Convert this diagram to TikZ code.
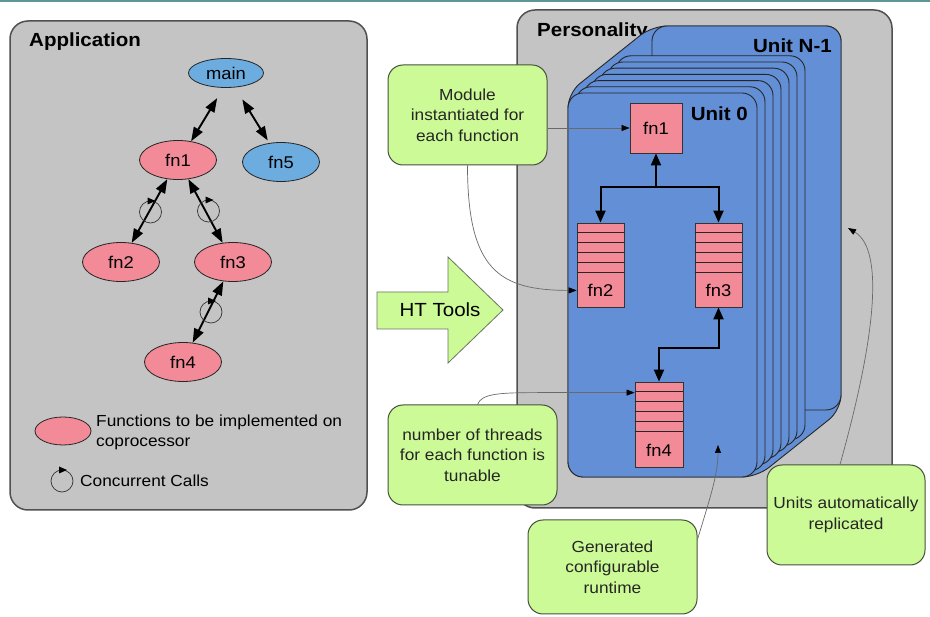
\documentclass[tikz,border=0pt]{standalone}
\usepackage{fontspec}
\setmainfont{Liberation Sans}[FakeStretch=1.08]
\usetikzlibrary{arrows.meta,calc,shapes.geometric}

\definecolor{panelgray}{RGB}{196,196,196}
\definecolor{paneledge}{RGB}{80,80,80}
\definecolor{unitblue}{RGB}{98,143,214}
\definecolor{fnpink}{RGB}{242,138,152}
\definecolor{fnblue}{RGB}{108,172,222}
\definecolor{notegreen}{RGB}{204,250,150}
\definecolor{noteedge}{RGB}{70,80,60}
\definecolor{topline}{RGB}{92,150,150}
\definecolor{leadergray}{RGB}{105,105,105}

\tikzset{
  panel/.style={fill=panelgray, draw=paneledge, line width=1.5pt, rounded corners=18pt},
  title/.style={font=\fontsize{19}{19}\selectfont\bfseries, inner sep=0pt},
  fnell/.style={ellipse, draw=black!85, line width=0.8pt, fill=fnpink,
    minimum width=77pt, minimum height=39pt, inner sep=0pt,
    font=\fontsize{17}{17}\selectfont},
  calltip/.tip={Triangle[length=14pt,width=10pt]},
  callarrow/.style={line width=1.9pt, calltip-calltip},
  conc/.pic={
    \draw[line width=0.7pt, black!80] (0,0) circle[radius=11pt];
    \fill[black] (-3,-14.5) -- (5,-11) -- (-3,-7.5) -- cycle;
  },
  unitbox/.style={fill=unitblue, draw=black!85, line width=0.9pt, rounded corners=15pt},
  fnbox/.style={rectangle, fill=fnpink, draw=black!80, line width=0.8pt, inner sep=0pt},
  fnlabel/.style={font=\fontsize{17}{17}\selectfont, inner sep=0pt},
  stripe/.style={line width=0.9pt, black!85},
  flow/.style={line width=2pt, black},
  bigtip/.tip={Triangle[length=12pt,width=10pt]},
  note/.style={rectangle, rounded corners=15pt, fill=notegreen, draw=noteedge,
    line width=1pt, align=center, inner sep=2pt, text=black!85,
    font=\fontsize{16}{20.5}\selectfont},
  leader/.style={line width=0.7pt, leadergray, -{Triangle[length=8pt,width=6pt,fill=black,color=black]}},
}

\begin{document}
\begin{tikzpicture}[x=1pt,y=-1pt]
\useasboundingbox (0,0) rectangle (930,617);
\fill[topline] (0,0) rectangle (930,2);

% ---------------- Application panel ----------------
\draw[panel] (10,21) rectangle (367,510);
\node[title, anchor=base west] (apptitle) at (29,47) {Application};

\node[fnell, fill=fnblue, minimum width=75pt, minimum height=29pt] (main) at (226,73) {main};
\node[fnell] (fn1) at (178,160) {fn1};
\node[fnell, fill=fnblue] (fn5) at (281,162) {fn5};
\node[fnell] (fn2) at (121,262) {fn2};
\node[fnell] (fn3) at (233,262) {fn3};
\node[fnell] (fn4) at (183,362) {fn4};

\draw[callarrow, shorten <=12pt] (main.-100) -- (fn1.55);
\draw[callarrow, shorten <=14pt, shorten >=3pt] (main) -- (fn5);
\draw[callarrow] (fn1) -- (fn2);
\draw[callarrow] (fn1) -- (fn3);
\draw[callarrow] (fn3) -- (fn4);

\pic at ($(fn1)!0.5!(fn2)+(1,1)$) {conc};
\pic at ($(fn1)!0.5!(fn3)+(3,0)$) {conc};
\pic at ($(fn3)!0.5!(fn4)+(3,0)$) {conc};

% legend
\node[fnell, minimum width=56pt, minimum height=28pt] (legfn) at (63,431) {};
\node[anchor=west, align=left, inner sep=0pt, font=\fontsize{16}{20}\selectfont] (legfntext) at (96,432)
  {Functions to be implemented on\\coprocessor};
\pic at (62,481) {conc};
\node[anchor=west, inner sep=0pt, font=\fontsize{16}{20}\selectfont] (legconc) at (80,481) {Concurrent Calls};

% ---------------- HT Tools arrow ----------------
\draw[fill=notegreen, draw=noteedge!80, line width=0.8pt]
  (377,292) -- (448,292) -- (448,257) -- (503,310) -- (448,363) -- (448,329) -- (377,329) -- cycle;
\node[font=\fontsize{19}{19}\selectfont, inner sep=0pt] (httools) at (440,310) {HT Tools};

% ---------------- Personality panel ----------------
\draw[panel] (517,10) rectangle (892,508);
\node[title, anchor=base west] (perstitle) at (537,37) {Personality};

% stack of replicated units, back to front
\draw[unitbox] (652,26) -- (841,26) -- (841,410) -- (757,477) -- (568,477) -- (568,93) -- cycle;
\draw[unitbox] (652,26) rectangle (841,410);
\node[title, anchor=base east] (unitlast) at (832,53) {Unit N-1};
\foreach \k in {6,5,...,1}
  \draw[unitbox] ($(568,93)+(8*\k,-6.2*\k)$) rectangle ++(189,384);
\draw[unitbox] (568,93) rectangle (757,477);
\node[title, anchor=base east] (unitfirst) at (748,121) {Unit 0};

% function modules inside Unit 0
\node[fnbox, minimum width=52pt, minimum height=50pt, font=\fontsize{17}{17}\selectfont] (ufn1) at (656,128) {fn1};

\node[fnbox, minimum width=47pt, minimum height=84pt] (q2) at (600.5,265) {};
\node[fnbox, minimum width=47pt, minimum height=84pt] (q3) at (718.5,265) {};
\node[fnbox, minimum width=48pt, minimum height=85pt] (q4) at (659,424.5) {};
\foreach \q in {q2,q3,q4}
  \foreach \i in {1,...,5}
    \draw[stripe] ($(\q.north west)+(0,10*\i)$) -- ($(\q.north east)+(0,10*\i)$);
\node[fnlabel] (q2label) at ($(q2.south)+(0,-17)$) {fn2};
\node[fnlabel] (q3label) at ($(q3.south)+(0,-17)$) {fn3};
\node[fnlabel] (q4label) at ($(q4.south)+(0,-17)$) {fn4};

% call paths between modules
\coordinate (split) at ($(ufn1.south)+(0,34)$);
\draw[flow, -bigtip] (split) -- (ufn1.south);
\draw[flow, -bigtip] (split) -| (q2.north);
\draw[flow, -bigtip] (split) -| (q3.north);
\draw[flow, bigtip-bigtip] (q3.south) -- ++(0,41) -| (q4.north);

% ---------------- callouts ----------------
\node[note, minimum width=159pt, minimum height=100pt] (nmod) at (467.5,115)
  {Module\\instantiated for\\each function};
\node[note, minimum width=169pt, minimum height=100pt] (nthr) at (472.5,455)
  {number of threads\\for each function is\\tunable};
\node[note, minimum width=169pt, minimum height=94pt] (ngen) at (612.5,567)
  {Generated\\configurable\\runtime};
\node[note, minimum width=158pt, minimum height=100pt] (nunit) at (846,515)
  {Units automatically\\replicated};

\coordinate (rtpoint) at (718,445);
\coordinate (reppoint) at (848,228);

\draw[leader] (nmod.east |- ufn1) -- (ufn1.west);
\draw[leader] (nmod.south) .. controls +(0,105) and +(-77,0) .. ($(q2.south west)+(0,-17)$);
\draw[leader] ($(nthr.north)+(5,0)$) .. controls +(4,-11) and +(-40,0) .. ($(q4.north west)+(-95,11)$)
  -- ($(q4.north west)+(0,11)$);
\draw[leader] ($(ngen.north east)+(0,20)$) .. controls +(12,-40) and +(0,30) .. (rtpoint);
\draw[leader] ($(nunit.north)+(-6,0)$) .. controls +(35,-125) and +(37,22) .. (reppoint);
\end{tikzpicture}
\end{document}
